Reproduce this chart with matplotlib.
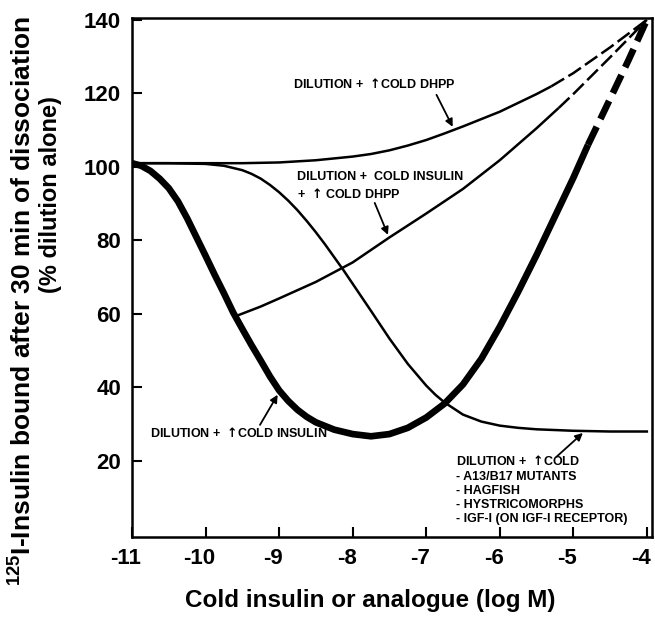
import matplotlib
matplotlib.use('Agg')

import matplotlib.pyplot as plt
import matplotlib.transforms as mtransforms
import numpy as np

# log M concentration of cold ligand vs % bound
dhpp_x = [-11, -10.5, -10, -9.5, -9, -8.5, -8, -7.75, -7.5, -7.25, -7, -6.75, -6.5,
          -6.25, -6, -5.5, -5.3, -5, -4.5, -4]
dhpp_y = [101, 101, 101, 101, 101.2, 101.8, 102.8, 103.5, 104.5, 105.8, 107.3, 109.1, 111,
          113, 115, 119.8, 121.9, 125.5, 132.5, 140]
dhpp_dash_from = -5.3

mut_x = [-11, -10.5, -10, -9.75, -9.5, -9.375, -9.25, -9.125, -9, -8.875, -8.75, -8.625,
         -8.5, -8.375, -8.25, -8.125, -8, -7.75, -7.5, -7.25, -7, -6.875, -6.75, -6.5,
         -6.25, -6, -5.75, -5.5, -5, -4.5, -4]
mut_y = [101, 101, 100.8, 100.3, 99.1, 98.1, 96.8, 95.1, 93.1, 90.8, 88.2, 85.3,
         82.2, 78.9, 75.4, 71.9, 68.2, 60.8, 53.3, 46.4, 40.5, 38, 35.9, 32.6,
         30.7, 29.6, 29, 28.6, 28.2, 28, 28]

ins_dhpp_x = [-9.6, -9.25, -9, -8.5, -8, -7.5, -7, -6.5, -6, -5.5, -5.2, -5, -4.5, -4]
ins_dhpp_y = [59.3, 62, 64.2, 68.7, 74, 80.8, 87.3, 94, 101.8, 110.5, 116, 119.8, 129.8, 140]
ins_dhpp_dash_from = -5.2

ins_x = [-11, -10.875, -10.75, -10.625, -10.5, -10.375, -10.25, -10.125, -10, -9.875,
         -9.75, -9.625, -9.5, -9.375, -9.25, -9.125, -9, -8.875, -8.75, -8.625, -8.5,
         -8.25, -8, -7.75, -7.5, -7.25, -7, -6.75, -6.5, -6.25, -6, -5.75, -5.5, -5.25,
         -5, -4.8, -4.5, -4.25, -4]
ins_y = [101, 100.3, 98.9, 96.8, 94.2, 90.6, 86, 80.9, 75.8, 70.6,
         65.6, 60.4, 55.9, 51.5, 47.3, 43, 39.2, 36.3, 33.9, 32, 30.5,
         28.5, 27.3, 26.7, 27.3, 29, 31.8, 35.6, 40.8, 47.8, 56.5, 66, 76, 86.5,
         97, 106, 118.5, 129, 140]
ins_dash_from = -4.8

xticks = [-11, -10, -9, -8, -7, -6, -5, -4]
yticks = [20, 40, 60, 80, 100, 120, 140]

plt.rcParams['font.family'] = ['Liberation Sans', 'DejaVu Sans']
plt.rcParams['font.weight'] = 'bold'
plt.rcParams['axes.unicode_minus'] = False
plt.rcParams['mathtext.fontset'] = 'custom'
plt.rcParams['mathtext.rm'] = 'Liberation Sans:bold'
plt.rcParams['mathtext.bf'] = 'Liberation Sans:bold'
plt.rcParams['mathtext.sf'] = 'DejaVu Sans:bold'

UP = '$\\mathsf{\u2191}$'


def draw(ax, x, y, lw, dash, split=None):
    x = np.array(x)
    y = np.array(y)
    if split is None:
        ax.plot(x, y, color='black', lw=lw, solid_joinstyle='round')
        return
    solid = x <= split
    dashed = x >= split
    ax.plot(x[solid], y[solid], color='black', lw=lw, solid_capstyle='butt',
            solid_joinstyle='round')
    ax.plot(x[dashed], y[dashed], color='black', lw=lw, linestyle=(0, dash))


fig = plt.figure(figsize=(6.55, 6.18), dpi=100)
ax = fig.add_axes([132 / 655, 1 - 537 / 618, 520 / 655, 519 / 618])

draw(ax, dhpp_x, dhpp_y, 1.8, (6, 2), dhpp_dash_from)
draw(ax, mut_x, mut_y, 1.8, (6, 2))
draw(ax, ins_dhpp_x, ins_dhpp_y, 1.8, (6, 2), ins_dhpp_dash_from)
draw(ax, ins_x, ins_y, 4.8, (3, 1.3), ins_dash_from)

ax.set_xlim(-11.0, -3.93)
ax.set_ylim(-0.7, 140.5)
ax.set_xticks(xticks)
ax.set_xticklabels([str(v) for v in xticks])
ax.set_yticks(yticks)
ax.set_yticklabels([str(v) for v in yticks])
ax.tick_params(axis='both', direction='in', length=7, width=1.5, labelsize=16)
ax.tick_params(axis='x', pad=8)
ax.tick_params(axis='y', pad=8)
for s in ax.spines.values():
    s.set_linewidth(1.8)

# hyphen-minus labels sit a little left of their ticks in the original
shift = mtransforms.ScaledTranslation(-6 / 100, 0, fig.dpi_scale_trans)
for lab in ax.get_xticklabels():
    lab.set_transform(lab.get_transform() + shift)

afont = dict(fontsize=9, fontweight='bold')
arrow = dict(arrowstyle='-|>', color='black', lw=1.3, mutation_scale=11, shrinkA=0, shrinkB=0)

ax.text(-8.81, 122.6, 'DILUTION +  ' + UP + 'COLD DHPP', va='center', ha='left', **afont)
ax.annotate('', xy=(-6.64, 110.9), xytext=(-6.86, 119.6), arrowprops=arrow)

ax.text(-8.76, 94.8, 'DILUTION +  COLD INSULIN\n+  ' + UP + ' COLD DHPP', va='center', ha='left',
        linespacing=1.45, **afont)
ax.annotate('', xy=(-7.52, 81.5), xytext=(-7.70, 90.2), arrowprops=arrow)

ax.text(-10.76, 27.6, 'DILUTION +  ' + UP + 'COLD INSULIN', va='center', ha='left', **afont)
ax.annotate('', xy=(-9.02, 38.0), xytext=(-9.26, 29.8), arrowprops=arrow)

ax.text(-6.6, 21.8, 'DILUTION +  ' + UP + 'COLD\n- A13/B17 MUTANTS\n- HAGFISH\n- HYSTRICOMORPHS\n- IGF-I (ON IGF-I RECEPTOR)',
        va='top', ha='left', linespacing=1.25, **afont)
ax.annotate('', xy=(-4.87, 27.6), xytext=(-5.23, 21.1), arrowprops=arrow)

fig.text(22 / 655, 1 - 301 / 618, r'$^{125}$I-Insulin bound after 30 min of dissociation',
         rotation=90, ha='center', va='center', fontsize=19, fontweight='bold')
fig.text(51 / 655, 1 - 195 / 618, '(% dilution alone)',
         rotation=90, ha='center', va='center', fontsize=17, fontweight='bold')
fig.text(370 / 655, 1 - 600 / 618, 'Cold insulin or analogue (log M)',
         ha='center', va='center', fontsize=17.5, fontweight='bold')

fig.savefig('out.png', dpi=100)
